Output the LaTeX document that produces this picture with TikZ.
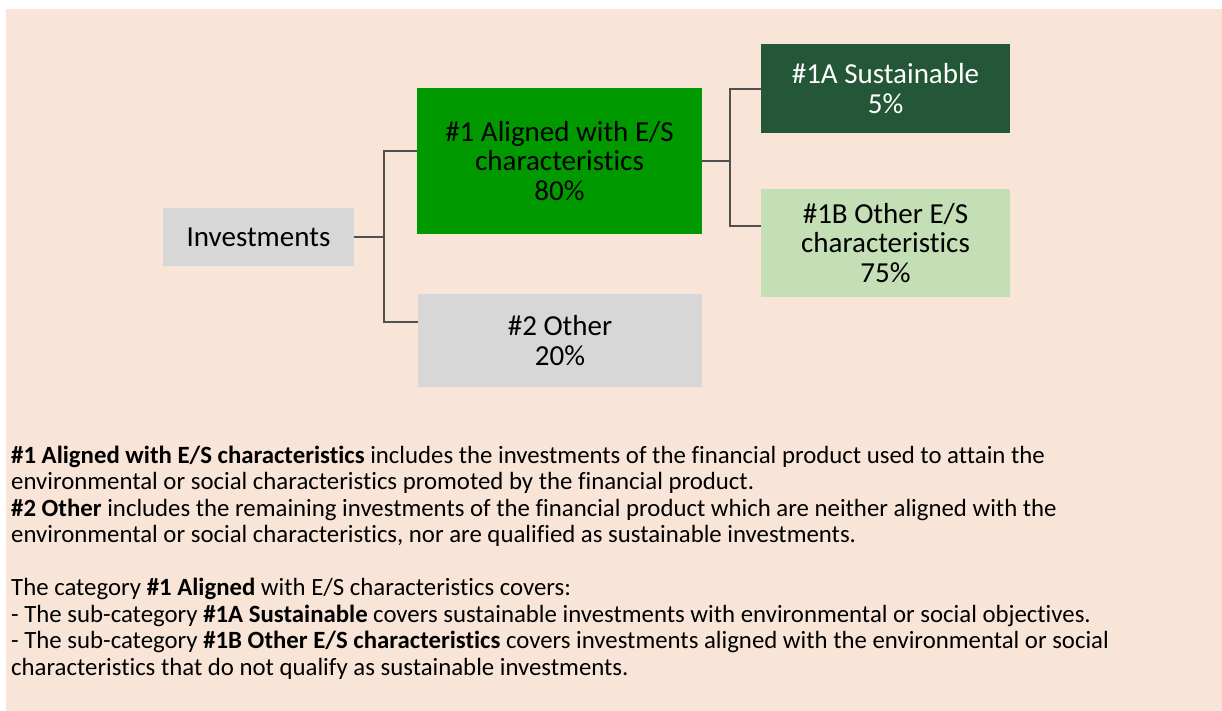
\documentclass[tikz,border=0pt]{standalone}
\usepackage{fontspec}
\setmainfont{Carlito}[Ligatures=NoCommon]
\definecolor{bgpeach}{HTML}{F8E5D8}
\definecolor{boxgrey}{HTML}{D7D7D7}
\definecolor{brightgreen}{HTML}{009900}
\definecolor{darkgreen}{HTML}{245638}
\definecolor{lightgreen}{HTML}{C4DEB5}
\definecolor{linegrey}{HTML}{505050}
\tikzset{
  box/.style={rectangle, inner sep=0pt, align=center, font=\fontsize{29}{29.5}\selectfont, text=black},
  conn/.style={draw=linegrey, line width=2.6pt},
}
\begin{document}
\begin{tikzpicture}[x=1pt,y=-1pt]
\useasboundingbox (0,0) rectangle (1222,711);
\fill[white] (0,0) rectangle (1222,711);
\fill[bgpeach] (6,9) rectangle (1222,711);

\node[box, fill=boxgrey, minimum width=191pt, minimum height=58pt] (inv) at (258.5,237) {Investments};
\node[box, fill=brightgreen, minimum width=285pt, minimum height=146pt] (al) at (559.5,161) {\#1 Aligned with E/S\\characteristics\\80\%};
\node[box, fill=boxgrey, minimum width=284pt, minimum height=93pt] (ot) at (560,340.5) {\#2 Other\\20\%};
\node[box, fill=darkgreen, text=white, minimum width=249pt, minimum height=89pt] (sa) at (885.5,88.5) {\#1A Sustainable\\5\%};
\node[box, fill=lightgreen, minimum width=249pt, minimum height=108pt] (sb) at (885.5,243) {\#1B Other E/S\\characteristics\\75\%};

\coordinate (j1) at (384,237);
\coordinate (j2) at (730,161);
\draw[conn] (inv.east) -- (j1);
\draw[conn] (al.west |- 0,151) -| (384,322) -- (ot.west |- 0,322);
\draw[conn] (al.east) -- (j2);
\draw[conn] (sa.west |- 0,89) -| (730,226) -- (sb.west |- 0,226);

\node[anchor=base west, align=left, inner sep=0pt, font=\fontsize{24.8}{26.5}\selectfont] (txt) at (11,675) {%
\textbf{\#1 Aligned with E/S characteristics} includes the investments of the financial product used to attain the\\
environmental or social characteristics promoted by the financial product.\\
\textbf{\#2 Other} includes the remaining investments of the financial product which are neither aligned with the\\
environmental or social characteristics, nor are qualified as sustainable investments.\\
\strut\\
The category \textbf{\#1 Aligned} with E/S characteristics covers:\\
- The sub-category \textbf{\#1A Sustainable} covers sustainable investments with environmental or social objectives.\\
- The sub-category \textbf{\#1B Other E/S characteristics} covers investments aligned with the environmental or social\\
characteristics that do not qualify as sustainable investments.};
\end{tikzpicture}
\end{document}
